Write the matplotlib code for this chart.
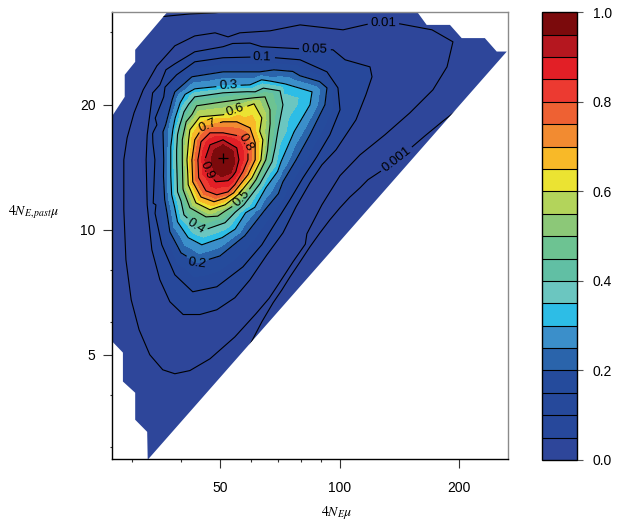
import numpy as np
import matplotlib
matplotlib.use('Agg')
import matplotlib.pyplot as plt
from matplotlib.tri import Triangulation
from matplotlib.patches import Polygon
from matplotlib.ticker import FixedLocator, NullFormatter

plt.rcParams['font.family'] = ['Liberation Sans', 'DejaVu Sans']
plt.rcParams['mathtext.fontset'] = 'stix'

# contour lines: x = 4N_E mu, y = 4N_E,past mu
# 0.001 comes in two pieces: along the diagonal edge and in the top-left corner
x_0001a = [59.5, 63.7, 68.0, 71.6, 75.0, 79.5, 84.2, 89.2, 94.5, 100.2, 106.1, 112.5, 117.8,
           128.5, 139.3, 151.1, 163.8, 180.9, 200.7]
y_0001a = [5.29, 6.00, 6.67, 7.17, 7.70, 8.37, 9.10, 9.83, 10.57, 11.30, 11.99, 12.62, 13.20,
           13.95, 14.74, 15.75, 16.83, 18.20, 19.67]
x_0001b = [35.3, 42.0, 48.6, 56.1]
y_0001b = [32.58, 33.1, 33.3, 33.86]

x_001 = [28.65, 28.65, 29.0, 29.9, 31.3, 33.3, 35.9, 38.5, 42.0, 47.2, 54.5, 61.6, 69.2, 76.3,
         82.7, 90.2, 100.2, 112.5, 130.0, 150.2, 171.6, 186.2, 192.7, 170.7, 141.8, 121.3, 102.0,
         79.5, 66.8, 56.1, 52.4, 48.6, 43.2, 38.5, 34.7, 32.05, 30.4, 29.2]
y_001 = [14.74, 11.17, 8.467, 6.783, 5.743, 5.0, 4.60, 4.50, 4.58, 4.89, 5.52, 6.28, 7.25, 8.37,
         9.78, 11.48, 13.50, 15.15, 16.94, 19.13, 21.73, 24.68, 28.36, 30.31, 31.33, 31.5, 30.31,
         31.15, 30.14, 29.81, 29.15, 29.81, 29.3, 27.74, 24.82, 21.73, 19.13, 16.65]

x_005 = [32.6, 32.8, 33.7, 35.3, 37.4, 40.4, 44.5, 49.1, 54.5, 59.5, 65.6, 72.0, 77.7, 84.2, 90.2,
         97.9, 109.9, 116.4, 120.6, 119.2, 103.2, 96.2, 79.5, 63.7, 50.9, 43.2, 38.5, 35.3, 33.3, 32.8]
y_005 = [14.74, 11.48, 8.95, 7.579, 6.71, 6.25, 6.25, 6.417, 6.86, 7.579, 8.70, 9.83, 11.36, 12.98,
         14.33, 15.58, 18.40, 21.14, 23.36, 24.68, 25.67, 27.13, 27.28, 27.6, 27.6, 26.83, 25.10,
         22.34, 18.92, 16.94]

x_01 = [34.3, 34.5, 35.7, 38.5, 42.7, 49.1, 57.1, 63.7, 69.2, 75.0, 80.9, 87.6, 94.5, 100.2, 99.0,
        92.9, 79.5, 63.7, 50.9, 43.2, 38.9, 36.1, 34.7]
y_01 = [14.74, 11.48, 9.20, 7.79, 7.09, 7.29, 8.14, 9.20, 10.45, 11.81, 13.35, 14.99, 16.94, 19.45,
        21.97, 24.01, 25.67, 26.1, 25.96, 25.38, 23.62, 20.90, 17.89]

x_02 = [36.1, 36.3, 37.4, 39.9, 43.7, 50.0, 57.7, 64.9, 72.0, 77.7, 84.2, 91.8, 92.9, 79.5, 63.0,
        50.9, 42.5, 38.5, 36.5]
y_02 = [14.74, 11.81, 9.89, 8.80, 8.32, 8.65, 9.67, 11.17, 13.05, 14.74, 16.94, 20.0, 21.97, 23.49,
        24.01, 24.01, 23.36, 21.49, 17.89]

x_03 = [37.6, 37.8, 39.1, 41.6, 45.0, 50.6, 58.0, 65.2, 71.2, 76.8, 84.2, 85.2, 72.9, 59.5, 50.9,
        43.2, 39.7, 38.05]
y_03 = [14.74, 12.14, 10.45, 9.57, 9.20, 9.57, 10.99, 12.62, 14.58, 17.22, 20.0, 21.49, 22.46, 22.34,
        22.21, 21.85, 20.22, 17.41]

x_04 = [38.9, 39.1, 40.6, 43.5, 45.8, 51.5, 57.4, 63.0, 67.6, 70.0, 72.0, 70.8, 61.3, 50.9, 43.2,
        40.6, 39.1]
y_04 = [14.74, 12.34, 10.86, 10.17, 10.0, 10.40, 11.48, 12.91, 14.58, 17.41, 20.0, 21.61, 21.49,
        21.37, 20.90, 19.24, 16.94]

x_05 = [40.2, 40.4, 42.0, 46.1, 51.2, 56.4, 61.6, 65.2, 66.4, 66.8, 64.9, 57.7, 50.9, 43.7, 41.1, 40.2]
y_05 = [14.74, 12.48, 11.30, 10.74, 11.05, 11.87, 13.20, 14.74, 16.94, 19.45, 20.90, 20.67, 20.33,
        19.89, 18.20, 16.47]

x_06 = [41.3, 41.6, 43.5, 47.2, 51.5, 55.8, 60.2, 63.4, 64.1, 63.7, 60.9, 56.1, 50.9, 44.5, 42.0]
y_06 = [14.74, 12.84, 11.61, 11.17, 11.48, 12.20, 13.35, 14.74, 16.47, 18.60, 20.11, 19.56, 18.92,
        18.71, 17.41]

x_07 = [42.5, 42.7, 44.8, 48.3, 51.7, 55.1, 58.8, 61.3, 61.3, 59.5, 55.1, 50.9, 45.3, 43.2]
y_07 = [14.74, 13.05, 11.99, 11.68, 11.93, 12.55, 13.57, 14.74, 16.20, 17.60, 18.20, 18.20, 17.70, 16.47]

x_08 = [44.0, 44.2, 46.1, 49.1, 52.4, 54.5, 57.1, 58.8, 58.8, 57.1, 50.9, 47.2, 44.8]
y_08 = [14.74, 13.35, 12.41, 12.14, 12.34, 12.84, 13.80, 14.74, 15.84, 16.75, 17.12, 17.12, 16.29]

x_09 = [45.8, 46.4, 48.8, 52.4, 54.8, 55.8, 55.1, 50.9, 47.2]
y_09 = [14.74, 13.80, 13.05, 13.13, 13.80, 14.74, 15.75, 16.47, 16.02]

# edge of the darkest band
x_095 = [47.5, 48.3, 50.6, 53.3, 54.5, 53.9, 50.9, 48.3]
y_095 = [14.74, 13.80, 13.42, 13.72, 14.58, 15.49, 16.02, 15.58]

peak_x = 50.9
peak_y = 14.9
peak_val = 1.0

# values around the surface, outside the drawn lines
bg_x = [26.1, 37.4, 26.1, 26.1, 26.1, 26.1, 26.1, 35.3, 44.5, 53.0, 94.5, 271.3,
        271.3, 271.3, 271.3, 70.8, 106.1, 168.7, 271.3,
        56.1, 67.6, 79.0, 96.2, 118.5, 145.1, 177.8, 218.9]
bg_y = [34.2, 34.6, 20.56, 11.81, 6.783, 3.896, 2.73, 2.73, 3.487, 2.73, 2.73, 2.73,
        6.783, 20.56, 27.9, 34.6, 34.6, 34.6, 34.6,
        4.60, 5.743, 6.783, 8.467, 10.57, 13.20, 16.47, 20.56]
bg_z = [3e-4, 3e-4, 3e-3, 3e-3, 3e-3, 3e-3, 3e-3, 3e-3, 3e-3, 2e-3, 1e-4, 1e-4,
        1e-4, 1e-4, 2e-3, 3e-3, 4e-3, 4e-3, 3e-3,
        2e-3, 3e-4, 3e-4, 3e-4, 3e-4, 3e-4, 3e-4, 3e-4]

# region of parameter space that was evaluated
domain_x = [32.9, 263.2, 248.3, 231.8, 202.7, 189.4, 165.5, 156.2, 156.2, 37.0, 37.0, 30.6,
            30.6, 28.8, 28.8, 26.8, 26.8, 28.5, 28.5, 30.6, 30.6, 32.8]
domain_y = [2.793, 26.87, 26.87, 28.95, 28.95, 31.15, 31.15, 33.6, 35.0, 35.0, 33.6, 27.13,
            25.38, 23.62, 20.90, 18.81, 5.38, 5.06, 4.31, 4.05, 3.487, 3.26]

line_levels = [0.001, 0.001, 0.01, 0.05, 0.1, 0.2, 0.3, 0.4, 0.5, 0.6, 0.7, 0.8, 0.9]
line_x = [x_0001a, x_0001b, x_001, x_005, x_01, x_02, x_03, x_04, x_05, x_06, x_07, x_08, x_09]
line_y = [y_0001a, y_0001b, y_001, y_005, y_01, y_02, y_03, y_04, y_05, y_06, y_07, y_08, y_09]

label_levels = [0.001, 0.01, 0.05, 0.1, 0.2, 0.3, 0.4, 0.5, 0.6, 0.7, 0.8, 0.9]
label_x = [139.3, 128.5, 86.6, 63.7, 43.7, 52.4, 43.5, 56.4, 54.8, 47.5, 56.8, 48.0]
label_y = [14.74, 30.65, 27.13, 26.1, 8.32, 22.21, 10.17, 11.93, 19.34, 16.65, 16.11, 14.02]

fill_levels = np.round(np.arange(21) * 0.05, 2)
band_colors = ['#2e469a', '#27489b', '#26499b', '#254b9c', '#2a64ab', '#3b8fca', '#2dbde6',
               '#6bc6c0', '#61bfa4', '#6dc392', '#8cc878', '#b3d45b', '#ebe332', '#f8b928',
               '#f28b31', '#ee6133', '#ec3a31', '#e21f26', '#b5171f', '#7b0a0c']

# ---- assemble points
px, py, pz = [], [], []
for lev, xs, ys in zip(line_levels, line_x, line_y):
    px += xs
    py += ys
    pz += [lev] * len(xs)
px += x_095
py += y_095
pz += [0.95] * len(x_095)
px.append(peak_x)
py.append(peak_y)
pz.append(peak_val)
px += bg_x
py += bg_y
pz += bg_z
px = np.array(px)
py = np.array(py)
pz = np.array(pz)

tri_log = Triangulation(np.log10(px), np.log10(py))
triang = Triangulation(px, py, tri_log.triangles)

fig = plt.figure(figsize=(6.17, 5.22), dpi=100)
ax = fig.add_axes([0.182, 0.1201, 0.6418, 0.8563])
cax = fig.add_axes([0.8789, 0.1188, 0.0567, 0.8577])

ax.set_xscale('log')
ax.set_yscale('log')
ax.set_xlim(26.8, 265.5)
ax.set_ylim(2.80, 33.4)

domain = Polygon(np.column_stack([domain_x, domain_y]), closed=True,
                 transform=ax.transData, fc='none', ec='none')
ax.add_patch(domain)

cf = ax.tricontourf(triang, pz, levels=fill_levels, colors=band_colors)
cf.set_clip_path(domain)

# one line set per level so each label lands on its own line
for lev, lx, ly in zip(label_levels, label_x, label_y):
    cl = ax.tricontour(triang, pz, levels=[lev], colors='k', linewidths=0.8)
    cl.set_clip_path(domain)
    ax.clabel(cl, manual=[(lx, ly)], inline=True, inline_spacing=3,
              fmt=lambda v: f'{v:g}', fontsize=9.5)

ax.plot([peak_x], [peak_y], marker='+', color='k', ms=7, mew=0.9, ls='none')

# axes styling
ax.xaxis.set_major_locator(FixedLocator([50, 100, 200]))
ax.xaxis.set_minor_locator(FixedLocator([30, 40, 60, 70, 80, 90]))
ax.yaxis.set_major_locator(FixedLocator([5, 10, 20]))
ax.yaxis.set_minor_locator(FixedLocator([3, 4, 6, 8, 30]))
ax.set_xticklabels(['50', '100', '200'])
ax.set_yticklabels(['5', '10', '20'])
ax.xaxis.set_minor_formatter(NullFormatter())
ax.yaxis.set_minor_formatter(NullFormatter())
ax.tick_params(which='major', length=6.5, width=0.8, color='#333333', labelsize=10)
ax.tick_params(which='minor', length=1.8, width=0.8, color='#333333')
ax.tick_params(axis='x', which='major', pad=9)
ax.tick_params(axis='y', which='major', pad=5.5)
for s in ['left', 'bottom']:
    ax.spines[s].set_color('black')
    ax.spines[s].set_linewidth(1.0)
for s in ['top', 'right']:
    ax.spines[s].set_color('#8a8a8a')
    ax.spines[s].set_linewidth(1.0)

cb = fig.colorbar(cf, cax=cax, ticks=[0, 0.2, 0.4, 0.6, 0.8, 1.0], drawedges=True)
cb.set_ticklabels(['0.0', '0.2', '0.4', '0.6', '0.8', '1.0'])
cb.outline.set_linewidth(1.0)
cb.outline.set_edgecolor('black')
cb.dividers.set_color('black')
cb.dividers.set_linewidth(0.8)
cax.tick_params(length=4.3, width=0.8, color='#555555', pad=7, labelsize=10)

fig.text(0.013, 0.588, r'$4N_{E,past}\mu$', fontsize=10, ha='left', va='baseline')
fig.text(0.5454, 0.0115, r'$4N_{E}\mu$', fontsize=10, ha='center', va='baseline')

fig.savefig('out.png', dpi=100)
